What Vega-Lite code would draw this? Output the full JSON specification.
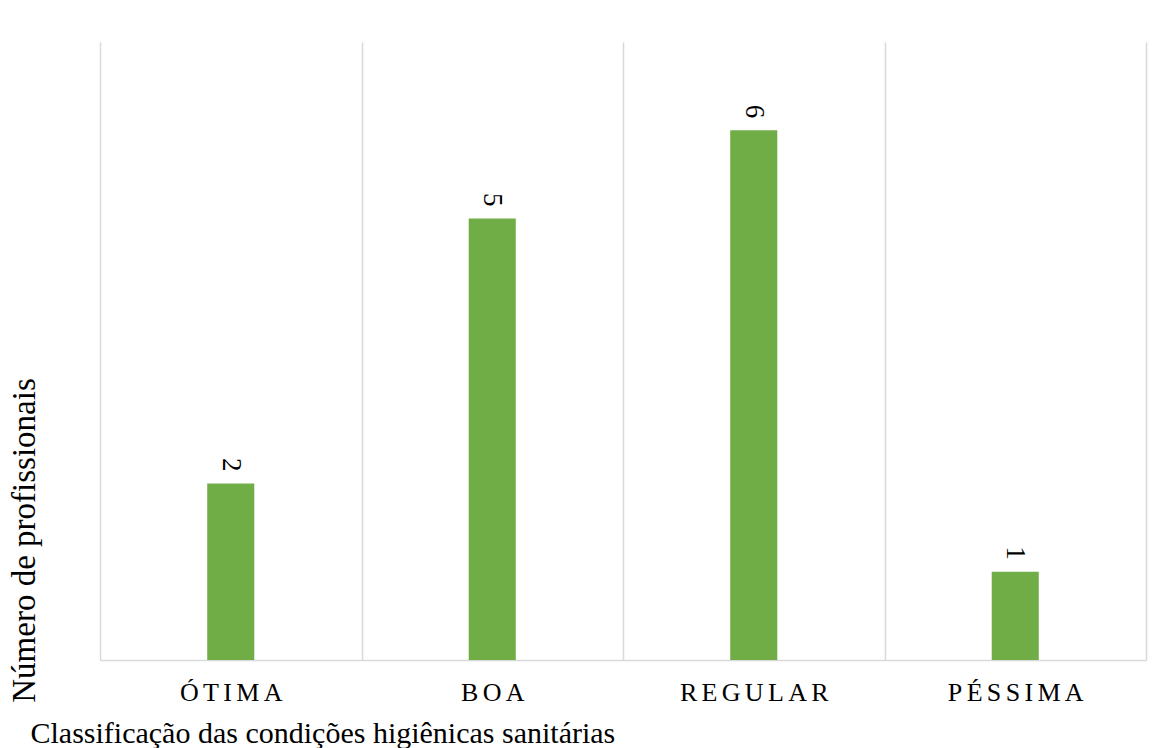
{
  "$schema": "https://vega.github.io/schema/vega-lite/v6.json",
  "autosize": "none",
  "width": 1046,
  "height": 618,
  "padding": {"left": 100, "top": 42, "right": 26, "bottom": 88},
  "background": "white",
  "config": {
    "view": {"stroke": null},
    "font": "Liberation Serif"
  },
  "data": {
    "values": [
      {"classificacao": "ÓTIMA", "profissionais": 2},
      {"classificacao": "BOA", "profissionais": 5},
      {"classificacao": "REGULAR", "profissionais": 6},
      {"classificacao": "PÉSSIMA", "profissionais": 1}
    ]
  },
  "encoding": {
    "x": {
      "field": "classificacao",
      "type": "nominal",
      "sort": null,
      "scale": {"paddingInner": 0, "paddingOuter": 0},
      "axis": {
        "title": "Classificação das condições higiênicas sanitárias",
        "titleFont": "Liberation Serif",
        "titleFontSize": 30,
        "titleFontWeight": "normal",
        "titleColor": "#000000",
        "titleAnchor": "start",
        "titleAlign": "left",
        "titleBaseline": "alphabetic",
        "titleX": -70,
        "titleY": 82,
        "labelAngle": 0,
        "labelFont": "Liberation Serif",
        "labelFontSize": 26,
        "labelColor": "#000000",
        "labelPadding": 19,
        "labelExpr": "join(split(datum.label, ''), '\u2006')",
        "ticks": false,
        "tickSize": 0,
        "tickBand": "extent",
        "grid": true,
        "gridColor": "#d9d9d9",
        "gridWidth": 1.5,
        "domain": true,
        "domainColor": "#d9d9d9",
        "domainWidth": 1.5
      }
    },
    "y": {
      "field": "profissionais",
      "type": "quantitative",
      "scale": {"domain": [0, 7], "nice": false},
      "axis": {
        "title": "Número de profissionais",
        "titleFont": "Liberation Serif",
        "titleFontSize": 33,
        "titleFontWeight": "normal",
        "titleColor": "#000000",
        "titleAngle": -90,
        "titleAlign": "center",
        "titleBaseline": "alphabetic",
        "titleX": -66,
        "titleY": 498,
        "labels": false,
        "ticks": false,
        "domain": false,
        "grid": false
      }
    }
  },
  "layer": [
    {
      "mark": {"type": "bar", "color": "#70ad47", "width": {"band": 0.18}}
    },
    {
      "mark": {
        "type": "text",
        "angle": 90,
        "align": "right",
        "baseline": "middle",
        "dx": -12,
        "font": "Liberation Serif",
        "fontSize": 27,
        "color": "#000000"
      },
      "encoding": {"text": {"field": "profissionais", "type": "quantitative"}}
    }
  ]
}
